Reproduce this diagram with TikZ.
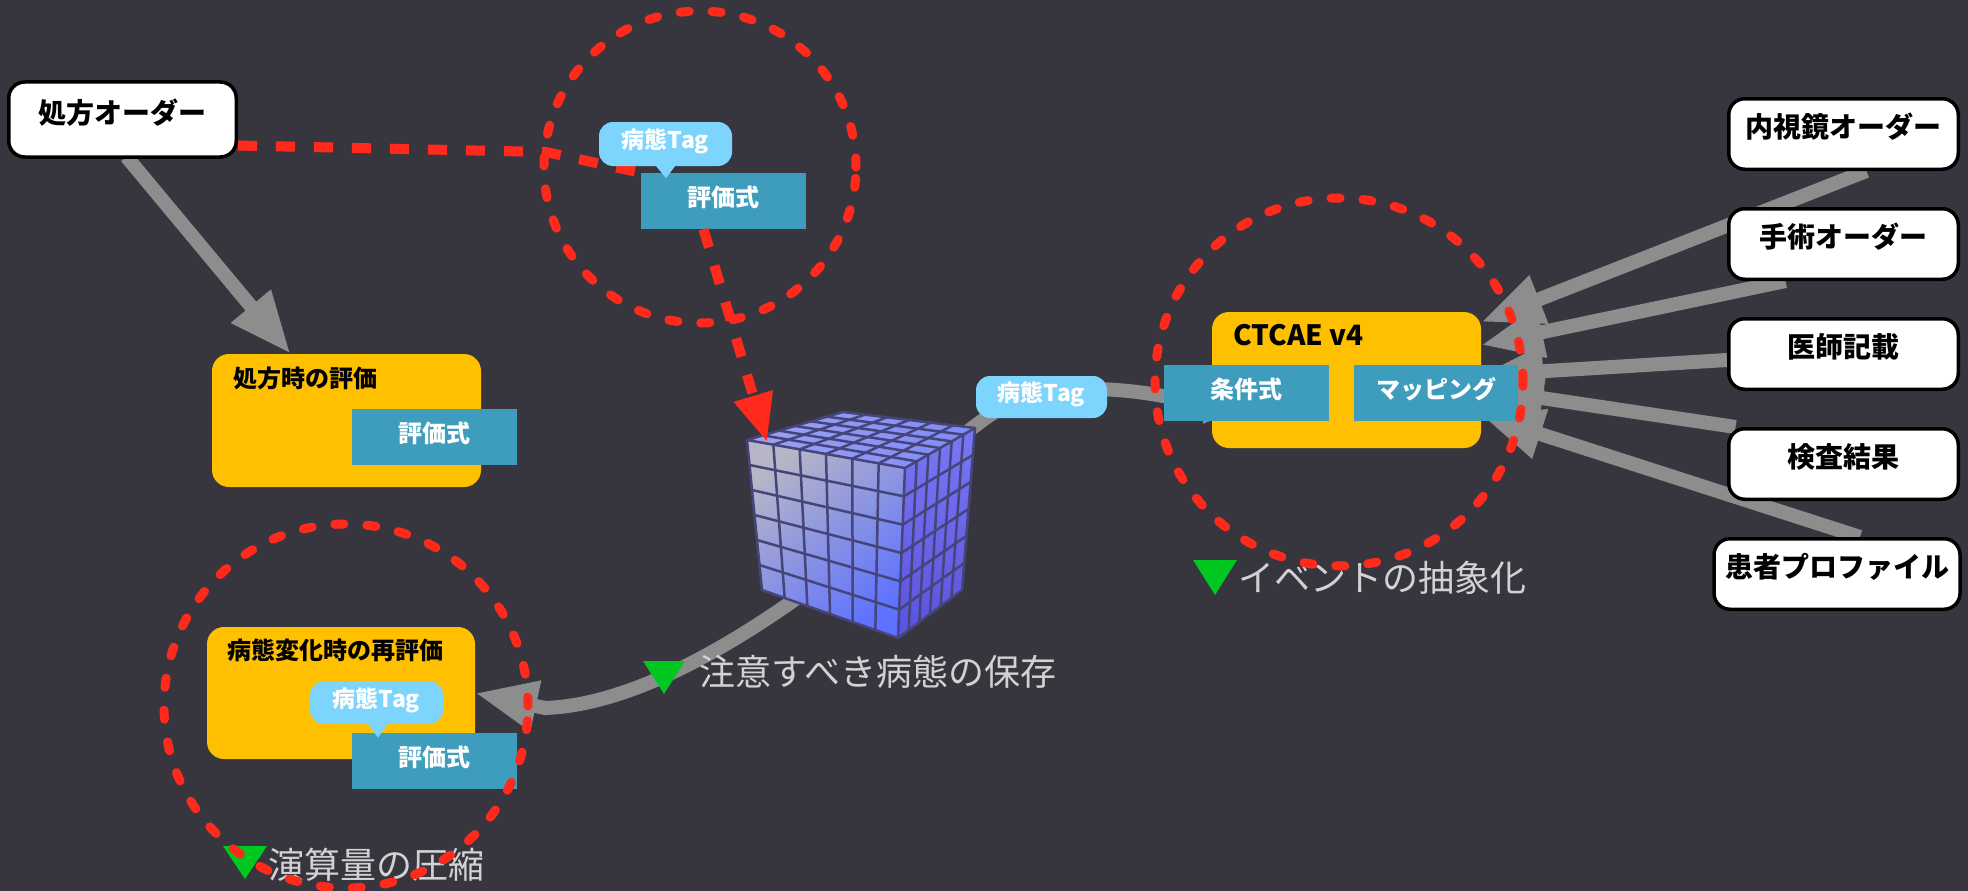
\documentclass[tikz,border=0pt]{standalone}
\usepackage{fontspec}
\setmainfont{Noto Sans CJK JP}
\usetikzlibrary{arrows.meta,calc}
\pgfdeclarelayer{back}
\pgfdeclarelayer{conn}
\pgfdeclarelayer{front}
\pgfsetlayers{back,conn,main,front}

\definecolor{bgc}{HTML}{37363F}
\definecolor{boxyellow}{HTML}{FFC000}
\definecolor{exprteal}{HTML}{3E9DBD}
\definecolor{tagblue}{HTML}{7DD4FC}
\definecolor{arrowgrey}{HTML}{8D8D8D}
\definecolor{dashred}{HTML}{FF2A1C}
\definecolor{markgreen}{HTML}{00C820}
\definecolor{labelgrey}{HTML}{D2D2D2}
\definecolor{gridline}{HTML}{45457A}
\definecolor{cubelight}{HTML}{B6B6C6}
\definecolor{cubeblue}{HTML}{5E72FF}
\definecolor{sidetop}{HTML}{7878F4}
\definecolor{sidebottom}{HTML}{5A52DE}
\definecolor{topleft}{HTML}{9CA3F3}
\definecolor{topright}{HTML}{7E8AF8}

\tikzset{
  orderbox/.style={draw=black, line width=3.5pt, fill=white, rounded corners=16pt,
    minimum width=229.5pt, minimum height=70.5pt, inner sep=0pt,
    font=\fontsize{28}{32}\selectfont\bfseries, text height=22pt, text depth=15pt},
  groupbox/.style={fill=boxyellow, rounded corners=17pt, inner sep=0pt},
  grouptitle/.style={anchor=base west, inner sep=0pt, text=black,
    font=\fontsize{24}{28}\selectfont\bfseries},
  exprbox/.style={fill=exprteal, minimum width=165pt, minimum height=56pt, inner sep=0pt,
    text=white, font=\fontsize{24}{28}\selectfont\bfseries, text height=19pt, text depth=8pt},
  tagbubble/.style={fill=tagblue, rounded corners=14pt, minimum width=133pt,
    minimum height=44pt, inner sep=0pt, text=white,
    font=\fontsize{23}{27}\selectfont\bfseries, text height=18pt, text depth=9pt},
  caption/.style={anchor=west, inner sep=0pt, text=labelgrey,
    font=\fontsize{36}{40}\selectfont},
  flow/.style={draw=arrowgrey, line width=14pt},
  flowtip/.style={-{Triangle[length=62pt,width=48pt]}},
  reddash/.style={draw=dashred, line width=10pt, dash pattern=on 19pt off 19pt},
  redtip/.style={-{Triangle[length=48pt,width=38pt]}},
  ringdash/.style={draw=dashred, line width=9pt, line cap=round, dash pattern=on 9pt off 23pt},
  cubegrid/.style={draw=gridline, line width=2.5pt, line cap=round},
}

\begin{document}
\begin{tikzpicture}[x=1pt,y=-1pt]
\begin{pgfonlayer}{back}
  \fill[bgc] (0,0) rectangle (1968,891);
\end{pgfonlayer}
\useasboundingbox (0,0) rectangle (1968,891);

% order sources
\node[orderbox, minimum width=227.5pt, minimum height=75pt] (ord) at (122.5,119.5) {処方オーダー};
\node[orderbox] (endo) at (1843.5,134) {内視鏡オーダー};
\node[orderbox] (surg) at (1843.5,244) {手術オーダー};
\node[orderbox] (note) at (1843.5,354) {医師記載};
\node[orderbox] (lab)  at (1843.5,464) {検査結果};
\node[orderbox, minimum width=246pt] (prof) at (1837,574) {患者プロファイル};

% yellow groups and their titles
\node[groupbox, minimum width=269pt, minimum height=133pt] (rx) at (346.5,420.5) {};
\node[grouptitle] (rxtitle) at (233,387) {処方時の評価};
\node[groupbox, minimum width=268pt, minimum height=132pt] (re) at (341,693) {};
\node[grouptitle] (retitle) at (227,659) {病態変化時の再評価};
\node[groupbox, minimum width=269pt, minimum height=136pt] (ctcae) at (1346.5,380) {};
\node[grouptitle, font=\fontsize{28}{32}\selectfont\bfseries] (ctcaetitle) at (1233,345) {CTCAE v4};

% expression boxes
\node[exprbox] (expr1) at (723.5,201) {評価式};
\node[exprbox] (expr2) at (434.5,437) {評価式};
\node[exprbox] (expr3) at (434.5,760.5) {評価式};
\node[exprbox] (cond) at (1246.5,392.5) {条件式};
\node[exprbox, minimum width=164pt] (map) at (1436,392.5) {マッピング};

% tag bubbles
\node[tagbubble] (tag1) at (665.5,144) {病態Tag};
\fill[tagblue] ([xshift=-11pt,yshift=2pt]tag1.south) -- ([xshift=11pt,yshift=2pt]tag1.south)
  -- ([xshift=0.5pt,yshift=-12pt]tag1.south) -- cycle;
\node[tagbubble, minimum width=131pt, minimum height=42pt] (tag2) at (1041.5,397) {病態Tag};
\node[tagbubble, minimum height=43pt] (tag3) at (376.5,702.5) {病態Tag};
\fill[tagblue] ([xshift=-9.5pt,yshift=2pt]tag3.south) -- ([xshift=12.5pt,yshift=2pt]tag3.south)
  -- ([xshift=1.5pt,yshift=-13.5pt]tag3.south) -- cycle;

% cube of stored states
\coordinate (fA) at (747,440);
\coordinate (fB) at (905,468);
\coordinate (fC) at (898,638);
\coordinate (fD) at (762,590);
\coordinate (tA) at (843,412);
\coordinate (tB) at (975,428);
\coordinate (rC) at (962,590);
\coordinate (cubetip) at (767,442);
\shade[top color=cubelight, bottom color=cubeblue, shading angle=40]
  (fA) -- (fB) -- (fC) -- (fD) -- cycle;
\shade[left color=topleft, right color=topright] (fA) -- (fB) -- (tB) -- (tA) -- cycle;
\shade[top color=sidetop, bottom color=sidebottom] (fB) -- (tB) -- (rC) -- (fC) -- cycle;
\foreach \i in {1,...,5} {
  \draw[cubegrid] ($(fA)!\i/6!(fD)$) -- ($(fB)!\i/6!(fC)$);
  \draw[cubegrid] ($(fA)!\i/6!(fB)$) -- ($(fD)!\i/6!(fC)$);
  \draw[cubegrid] ($(fA)!\i/6!(tA)$) -- ($(fB)!\i/6!(tB)$);
  \draw[cubegrid] ($(fA)!\i/6!(fB)$) -- ($(tA)!\i/6!(tB)$);
  \draw[cubegrid] ($(fB)!\i/6!(fC)$) -- ($(tB)!\i/6!(rC)$);
  \draw[cubegrid] ($(fB)!\i/6!(tB)$) -- ($(fC)!\i/6!(rC)$);
}
\draw[cubegrid, line join=round] (fA) -- (fB) -- (fC) -- (fD) -- cycle
  (fA) -- (tA) -- (tB) -- (fB) (tB) -- (rC) -- (fC);

% captions
\fill[markgreen] (223,846) -- (267,846) -- (245,879) -- cycle;
\node[caption] (cap1) at (268,865) {演算量の圧縮};
\fill[markgreen] (643,661) -- (685,661) -- (664,694) -- cycle;
\node[caption] (cap2) at (699,672) {注意すべき病態の保存};
\fill[markgreen] (1193,560) -- (1237,560) -- (1215,595) -- cycle;
\node[caption] (cap3) at (1238,578) {イベントの抽象化};

% grey data flows, behind the boxes
\begin{pgfonlayer}{conn}
  \draw[flow, flowtip] ([xshift=4pt,yshift=2pt]ord.south) -- ([xshift=-56pt]rx.north);
  \draw[flow, flowtip] ([xshift=23pt]endo.south) -- ([yshift=58pt]ctcae.east);
  \draw[flow, flowtip] ([xshift=-58pt]surg.south) -- ([yshift=35pt]ctcae.east);
  \draw[flow, flowtip] ([yshift=-6pt]note.west) -- ([yshift=5pt]ctcae.east);
  \draw[flow, flowtip] ([xshift=-108pt]lab.north) -- ([yshift=-9pt]ctcae.east);
  \draw[flow, flowtip] ([xshift=23pt]prof.north) -- ([yshift=-35pt]ctcae.east);
  \draw[flow, {Triangle[length=62pt,width=48pt]}-{Triangle[length=62pt,width=48pt]}]
    ([xshift=54pt,yshift=-20pt]ctcae.west) -- (1163,396)
    .. controls (1120,388) and (1040,380) .. (990,415)
    .. controls (900,478) and (850,560) .. (790,603)
    .. controls (725,648) and (630,705) .. (545,708) -- (re.east);
  \draw[reddash] ([yshift=-26pt]ord.east) -- (546,152) -- (expr1.north west);
\end{pgfonlayer}

% red highlights on top
\begin{pgfonlayer}{front}
  \draw[reddash, redtip] ([xshift=-20pt]expr1.south) -- (cubetip);
  \draw[ringdash] (700,167) circle[radius=156pt];
  \draw[ringdash] (1339,382) circle[radius=184pt];
  \draw[ringdash] (346,706) circle[radius=182pt];
\end{pgfonlayer}
\end{tikzpicture}
\end{document}
